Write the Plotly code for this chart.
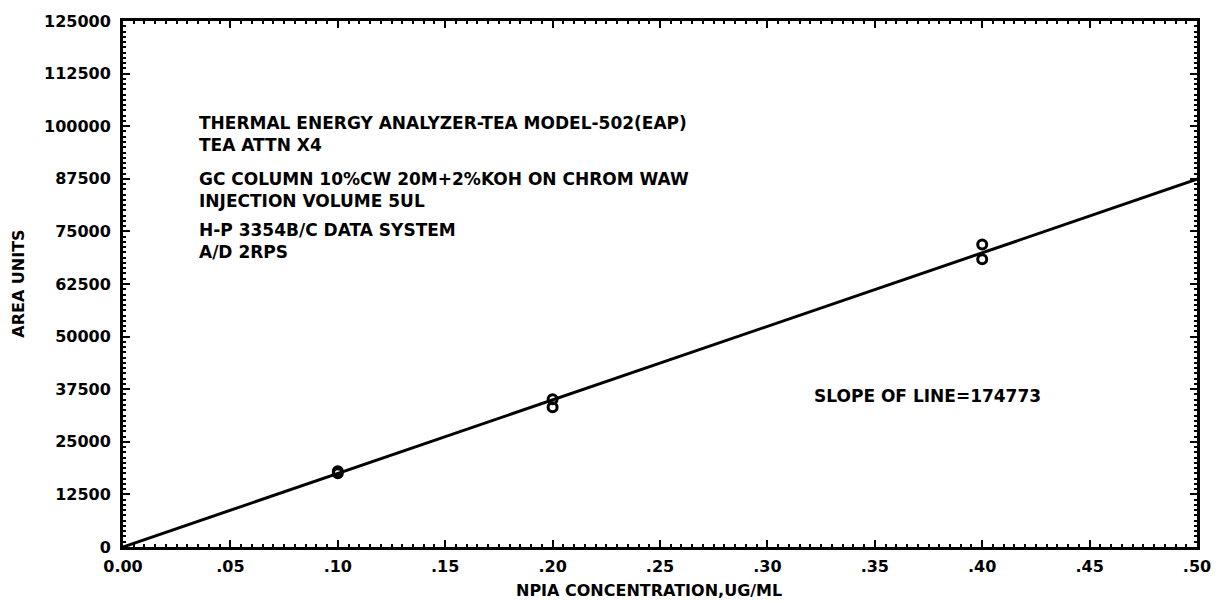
import plotly.graph_objects as go

# Calibration standards (concentration, detector area)
conc = [0.10, 0.10, 0.20, 0.20, 0.40, 0.40]
area = [18000, 17500, 35100, 33200, 71900, 68400]

# Fitted calibration line
slope = 174773
line_x = [0.0, 0.50]
line_y = [slope * x for x in line_x]

x_ticks = [0.00, 0.05, 0.10, 0.15, 0.20, 0.25, 0.30, 0.35, 0.40, 0.45, 0.50]
x_ticktext = ["0.00", ".05", ".10", ".15", ".20", ".25", ".30", ".35", ".40", ".45", ".50"]
y_ticks = [0, 12500, 25000, 37500, 50000, 62500, 75000, 87500, 100000, 112500, 125000]
y_ticktext = [str(v) for v in y_ticks]

# Run conditions, printed as three two-line groups
info_groups = [
    (["THERMAL ENERGY ANALYZER-TEA MODEL-502(EAP)", "TEA ATTN X4"], 98100),
    (["GC COLUMN 10%CW 20M+2%KOH ON CHROM WAW", "INJECTION VOLUME 5UL"], 84800),
    (["H-P 3354B/C DATA SYSTEM", "A/D 2RPS"], 72800),
]
slope_label = "SLOPE OF LINE=" + str(slope)

FONT = "DejaVu Sans"
font_b = dict(family=FONT, size=16, color="black", weight="bold")
font_txt = dict(family=FONT, size=17, color="black", weight="bold")

fig = go.Figure()
fig.add_trace(go.Scatter(
    x=line_x, y=line_y, mode="lines",
    line=dict(color="black", width=3), hoverinfo="skip", showlegend=False,
))
fig.add_trace(go.Scatter(
    x=conc, y=area, mode="markers",
    marker=dict(symbol="circle-open", size=9, color="black", line=dict(width=3, color="black")),
    showlegend=False,
))

for lines, yv in info_groups:
    fig.add_annotation(x=0.0345, y=yv, xref="x", yref="y", text="<br>".join(lines),
                       showarrow=False, xanchor="left", yanchor="middle", align="left",
                       font=font_txt)
fig.add_annotation(x=0.3208, y=35800, xref="x", yref="y", text=slope_label, showarrow=False,
                   xanchor="left", yanchor="middle", font=font_txt)

# Axis titles
fig.add_annotation(x=0.49, y=-0.083, xref="paper", yref="paper",
                   text="NPIA CONCENTRATION,UG/ML", showarrow=False,
                   xanchor="center", yanchor="middle", font=font_b)
fig.add_annotation(x=-0.098, y=0.5, xref="paper", yref="paper",
                   text="AREA UNITS", showarrow=False, textangle=-90,
                   xanchor="center", yanchor="middle", font=font_b)

axis_common = dict(
    showgrid=False, zeroline=False, showline=True, linecolor="black", linewidth=3,
    mirror="ticks", ticks="inside", ticklen=7, tickwidth=2, tickcolor="black",
    tickfont=font_b,
)
fig.update_xaxes(
    range=[0, 0.5], tickvals=x_ticks, ticktext=x_ticktext, ticklabelstandoff=3,
    minor=dict(ticks="inside", ticklen=3, tickwidth=2, dtick=0.005, tickcolor="black"),
    **axis_common,
)
fig.update_yaxes(
    range=[0, 125000], tickvals=y_ticks, ticktext=y_ticktext, ticklabelstandoff=6,
    minor=dict(ticks="inside", ticklen=3, tickwidth=2, dtick=1250, tickcolor="black"),
    **axis_common,
)

fig.update_layout(
    width=1225, height=602,
    margin=dict(l=123, r=28, t=13, b=55),
    paper_bgcolor="white", plot_bgcolor="white",
    font=dict(family=FONT, color="black"),
)

fig.write_html("out.html")
